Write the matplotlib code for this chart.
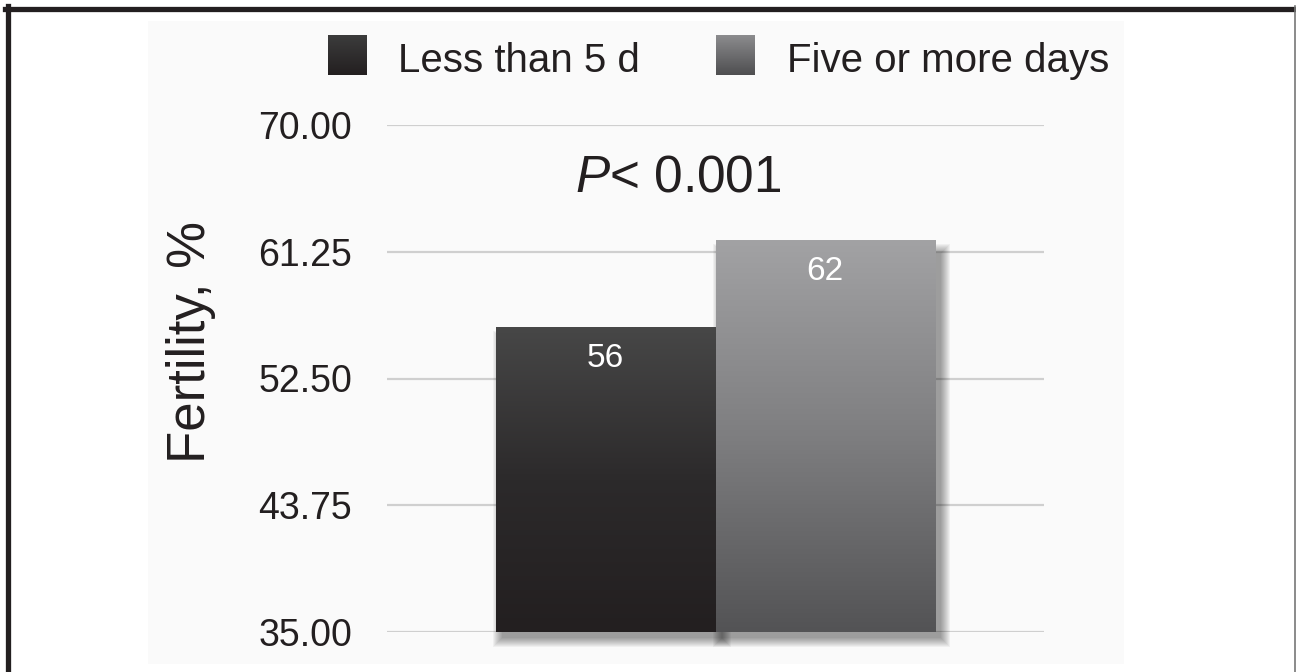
import numpy as np
import matplotlib.pyplot as plt
from matplotlib.patches import Rectangle
from matplotlib.lines import Line2D
from matplotlib.colors import LinearSegmentedColormap

plt.rcParams['font.family'] = ['Liberation Sans', 'DejaVu Sans']
plt.rcParams['mathtext.fontset'] = 'custom'
plt.rcParams['mathtext.it'] = 'Liberation Sans:italic'
plt.rcParams['mathtext.rm'] = 'Liberation Sans'

# data
groups = ['Less than 5 d', 'Five or more days']
fertility = [56, 62]
yticks = [35.00, 43.75, 52.50, 61.25, 70.00]
p_label = r'$P$< 0.001'

# gradient stops (top, middle, bottom) for each group
bar_stops = [['#474747', '#2c2a2b', '#231f20'],
             ['#a2a2a4', '#7e7e80', '#535355']]
legend_stops = [['#3c3c3c', '#231f20'], ['#8c8c8e', '#4e4e50']]
ink = '#231f20'

W, H = 1296, 672
fig = plt.figure(figsize=(W / 100, H / 100), dpi=100)

# light panel and page frame
fig.patches.append(Rectangle((148 / W, 1 - 664 / H), (1124 - 148) / W, (664 - 21) / H,
                             transform=fig.transFigure, facecolor='#fafafa',
                             edgecolor='none', zorder=-10))
fig.add_artist(Line2D([5 / W, 1], [1 - 8.5 / H, 1 - 8.5 / H], color=ink, lw=3.8))
fig.add_artist(Line2D([7.5 / W, 7.5 / W], [0, 1 - 6 / H], color=ink, lw=3.8))
fig.add_artist(Line2D([1295 / W, 1295 / W], [0, 1 - 6 / H], color='#777777', lw=1.2))

ax = fig.add_axes([387 / W, 1 - 632 / H, 657 / W, 507 / H])
ax.set_facecolor('none')
for s in ax.spines.values():
    s.set_visible(False)

for t in yticks:
    ax.axhline(t, color='#cfcfcf', lw=1.6, zorder=0.5)

x = np.arange(len(groups))
bars = ax.bar(x, fertility, width=1.0, color='none', edgecolor='none', zorder=3)

xmin, xmax = -0.997, 1.997
ymin, ymax = 35, 70
px_x = (xmax - xmin) / 657
px_y = (ymax - ymin) / 507

# soft drop shadow behind the bars
for i, v in enumerate(fertility):
    for k in range(0, 10):
        ax.add_patch(Rectangle((i - 0.5 + (6 - k) * px_x, ymin - (6 + k) * px_y),
                               1.0 + 2 * k * px_x, v - ymin + 2 * k * px_y - 6 * px_y,
                               facecolor='black', edgecolor='none', alpha=0.045,
                               zorder=1.5, clip_on=False))

# gradient fill for each bar
grad = np.linspace(0, 1, 256).reshape(-1, 1)
for i, (b, v) in enumerate(zip(bars, fertility)):
    cmap = LinearSegmentedColormap.from_list(f'bar{i}', bar_stops[i])
    ax.imshow(grad, cmap=cmap, aspect='auto', origin='upper',
              extent=(i - 0.5, i + 0.5, ymin, v), zorder=2.5, clip_path=b)
    ax.annotate(f'{v}', (i, v), xytext=(0, -28), textcoords='offset points',
                ha='center', va='baseline', color='white', fontsize=24, zorder=4)

ax.set_xlim(xmin, xmax)
ax.set_ylim(ymin, ymax)
ax.set_xticks([])
ax.set_yticks(yticks, [f'{t:.2f}' for t in yticks])
ax.tick_params(axis='y', length=0, pad=25, labelsize=27, labelcolor=ink)

ax.text(0.33, 65.4, p_label, ha='center', va='baseline', fontsize=37, color=ink)

fig.text(191 / W, 1 - 342 / H, 'Fertility, %', rotation=90, ha='center', va='center',
         fontsize=38, color=ink)

# legend: gradient squares with labels
for (sq_x, txt_x), label, stops in zip([(328, 398), (716, 787)], groups, legend_stops):
    lax = fig.add_axes([sq_x / W, 1 - 75 / H, 39 / W, 40 / H])
    lax.imshow(grad, cmap=LinearSegmentedColormap.from_list(label, stops), aspect='auto')
    lax.axis('off')
    fig.text(txt_x / W, 1 - 72 / H, label, fontsize=29, va='baseline', color=ink)

fig.savefig('out.png', dpi=100)
